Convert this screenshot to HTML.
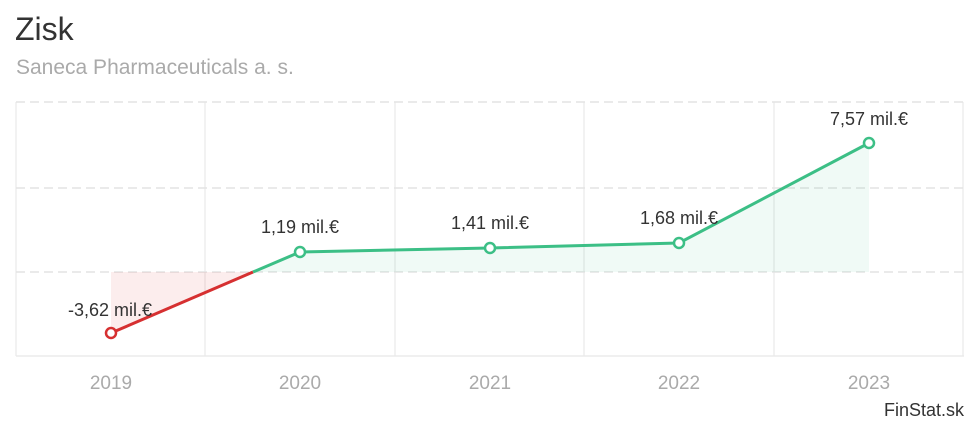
<!DOCTYPE html>
<html><head><meta charset="utf-8"><style>
body{margin:0;background:#fff;width:980px;height:425px;overflow:hidden;font-family:"Liberation Sans",sans-serif}
</style></head><body>
<svg width="980" height="425" viewBox="0 0 980 425" xmlns="http://www.w3.org/2000/svg" font-family="Liberation Sans, sans-serif">
<text x="15" y="40" font-size="32" fill="#333">Zisk</text>
<text x="16" y="74" font-size="21" fill="#aaa">Saneca Pharmaceuticals a. s.</text>
<g stroke="#e8e8e8" stroke-width="1.2">
<line x1="16" y1="356" x2="964" y2="356"/>
<line x1="16" y1="102" x2="16" y2="356"/>
<line x1="205" y1="102" x2="205" y2="356"/>
<line x1="395" y1="102" x2="395" y2="356"/>
<line x1="584" y1="102" x2="584" y2="356"/>
<line x1="774" y1="102" x2="774" y2="356"/>
<line x1="963" y1="102" x2="963" y2="356"/>
</g>
<g stroke="#e3e3e3" stroke-width="1.5" stroke-dasharray="9,5">
<line x1="16" y1="102" x2="964" y2="102"/>
<line x1="16" y1="188" x2="964" y2="188"/>
<line x1="16" y1="272" x2="964" y2="272"/>
</g>
<polygon points="111,272 111,333 253,272" fill="#d33" fill-opacity="0.09"/>
<polygon points="253,272 300,252 490,248 679,243 869,143 869,272" fill="#3cbf86" fill-opacity="0.08"/>
<polyline points="111,333 253,272" fill="none" stroke="#d63031" stroke-width="3"/>
<polyline points="253,272 300,252 490,248 679,243 869,143" fill="none" stroke="#3cbf86" stroke-width="3"/>
<circle cx="111" cy="333" r="5" fill="#fff" stroke="#d63031" stroke-width="2.5"/>
<g fill="#fff" stroke="#3cbf86" stroke-width="2.5">
<circle cx="300" cy="252" r="5"/><circle cx="490" cy="248" r="5"/><circle cx="679" cy="243" r="5"/><circle cx="869" cy="143" r="5"/>
</g>
<g font-size="18" fill="#333" text-anchor="middle">
<text x="110" y="316">-3,62 mil.€</text>
<text x="300" y="233">1,19 mil.€</text>
<text x="490" y="229">1,41 mil.€</text>
<text x="679" y="224">1,68 mil.€</text>
<text x="869" y="125">7,57 mil.€</text>
</g>
<g font-size="19" fill="#aaa" text-anchor="middle">
<text x="111" y="389">2019</text><text x="300" y="389">2020</text><text x="490" y="389">2021</text><text x="679" y="389">2022</text><text x="869" y="389">2023</text>
</g>
<text x="964" y="416" font-size="18" fill="#333" text-anchor="end">FinStat.sk</text>
</svg>
</body></html>
